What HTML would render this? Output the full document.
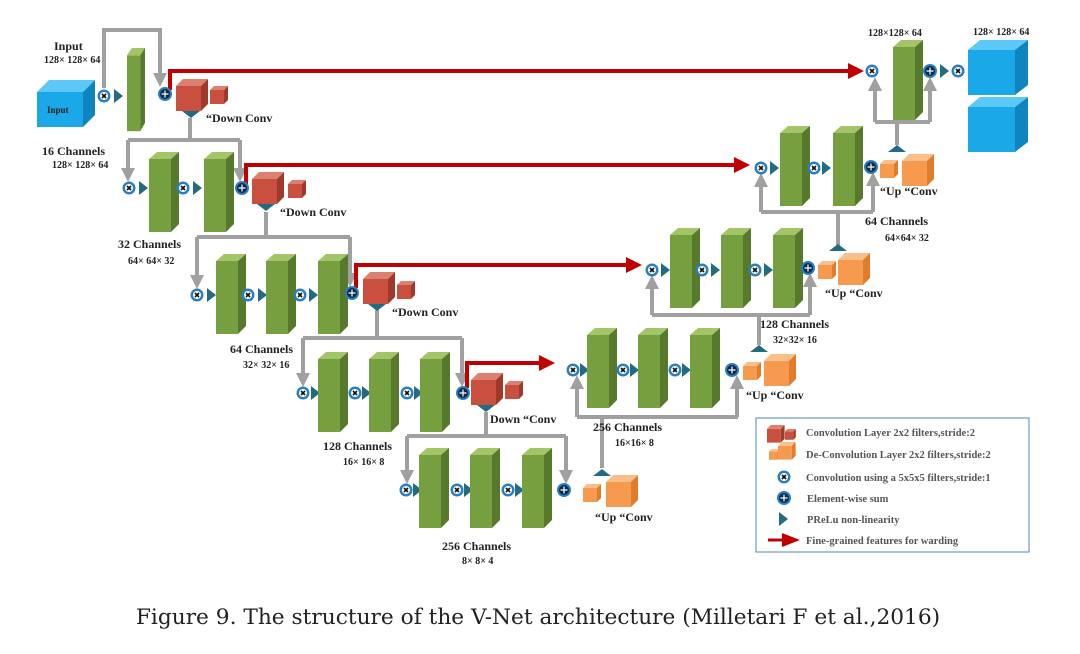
<!DOCTYPE html>
<html><head><meta charset="utf-8"><style>
body{margin:0;background:#fff}
svg{display:block}
text{font-family:"Liberation Serif",serif;font-weight:bold;fill:#222}
</style></head><body>
<svg width="1080" height="654" viewBox="0 0 1080 654" xmlns="http://www.w3.org/2000/svg">
<defs>
<g id="bar">
<rect x="0" y="7" width="22" height="73" fill="#76a03f"/>
<polygon points="0,7 8,0 30,0 22,7" fill="#a4c468"/>
<polygon points="22,7 30,0 30,72 22,80" fill="#56792c"/>
</g>
<g id="conv">
<circle r="6.5" fill="#2b7fc0"/><circle r="4" fill="#fff"/>
<path d="M-2,-2L2,2M2,-2L-2,2" stroke="#111" stroke-width="1.6"/>
</g>
<g id="sum">
<circle r="7" fill="#2b7fc0"/><circle r="5" fill="#0a2a4a"/>
<path d="M-3.5,0H3.5M0,-3.5V3.5" stroke="#fff" stroke-width="1.2"/>
</g>
<polygon id="tri" points="0,-7 9,0 0,7" fill="#236b80"/>
<polygon id="tdown" points="-9,0 9,0 0,7" fill="#236b80"/>
<polygon id="tup" points="-9,0 9,0 0,-7" fill="#236b80"/>
<g id="rbig"><rect x="0" y="7" width="25" height="25" fill="#c9503f"/><polygon points="0,7 7,0 32,0 25,7" fill="#dc8070"/><polygon points="25,7 32,0 32,25 25,32" fill="#9e3a2c"/></g>
<g id="rsm"><rect x="0" y="4" width="14" height="14" fill="#c9503f"/><polygon points="0,4 4,0 18,0 14,4" fill="#dc8070"/><polygon points="14,4 18,0 18,14 14,18" fill="#9e3a2c"/></g>
<g id="obig"><rect x="0" y="7" width="25" height="25" fill="#f59a4e"/><polygon points="0,7 7,0 32,0 25,7" fill="#f8bf8a"/><polygon points="25,7 32,0 32,25 25,32" fill="#e07c2a"/></g>
<g id="osm"><rect x="0" y="4" width="14" height="14" fill="#f59a4e"/><polygon points="0,4 4,0 18,0 14,4" fill="#f8bf8a"/><polygon points="14,4 18,0 18,14 14,18" fill="#e07c2a"/></g>
<marker id="ga" viewBox="0 0 10 10" refX="5" refY="5" markerWidth="3.5" markerHeight="3.5" orient="auto"><path d="M0,0L10,5L0,10z" fill="#a0a0a0"/></marker>
<marker id="ra" viewBox="0 0 10 10" refX="5" refY="5" markerWidth="4" markerHeight="4" orient="auto"><path d="M0,0L10,5L0,10z" fill="#c00000"/></marker>
</defs>

<g fill="none" stroke="#a0a0a0" stroke-width="4">
<path d="M104,88V30H160V80" marker-end="url(#ga)"/>
<path d="M190,118V140M128,140H240"/>
<path d="M128,140V175" marker-end="url(#ga)"/><path d="M240,140V175" marker-end="url(#ga)"/>
<path d="M266,212V237M197,237H350"/>
<path d="M197,237V282" marker-end="url(#ga)"/><path d="M350,237V280" marker-end="url(#ga)"/>
<path d="M377,310V338M303,338H462"/>
<path d="M303,338V380" marker-end="url(#ga)"/><path d="M462,338V380" marker-end="url(#ga)"/>
<path d="M486,412V436M407,436H566"/>
<path d="M407,436V477" marker-end="url(#ga)"/><path d="M566,436V477" marker-end="url(#ga)"/>
<path d="M602,468V417M577,417H738"/>
<path d="M577,417V382" marker-end="url(#ga)"/><path d="M737,417V382" marker-end="url(#ga)"/>
<path d="M759,345V315M652,315H810"/>
<path d="M652,315V282" marker-end="url(#ga)"/><path d="M810,315V280" marker-end="url(#ga)"/>
<path d="M838,245V212M761,212H873"/>
<path d="M761,212V180" marker-end="url(#ga)"/><path d="M873,212V179" marker-end="url(#ga)"/>
<path d="M897,145V122M875,122H930"/>
<path d="M875,122V84" marker-end="url(#ga)"/><path d="M930,122V84" marker-end="url(#ga)"/>
</g>

<g fill="none" stroke="#c00000" stroke-width="4">
<path d="M170,90V71H856" marker-end="url(#ra)"/>
<path d="M246,184V165H742" marker-end="url(#ra)"/>
<path d="M356,288V265H634" marker-end="url(#ra)"/>
<path d="M467,388V363H547" marker-end="url(#ra)"/>
</g>

<rect x="37" y="92" width="46" height="35" fill="#1aa8e8"/>
<polygon points="37,92 49,80 95,80 83,92" fill="#5cc8f5"/>
<polygon points="83,92 95,80 95,115 83,127" fill="#0f85c0"/>
<text x="47" y="113" font-size="9" fill="#1a4a80">Input</text>
<text x="54" y="50" font-size="12">Input</text>
<text x="44" y="63" font-size="10">128× 128× 64</text>
<use href="#conv" x="104" y="96"/><use href="#tri" x="114" y="96"/>
<g transform="translate(127,48) scale(0.6,1.04)"><use href="#bar"/></g>
<use href="#sum" x="165" y="94"/>
<use href="#rbig" x="176" y="79"/><use href="#rsm" x="210" y="86"/>
<use href="#tdown" x="191" y="111"/>
<text x="206" y="122" font-size="12">“Down Conv</text>

<text x="42" y="155" font-size="12">16 Channels</text>
<text x="52" y="168" font-size="10">128× 128× 64</text>
<use href="#conv" x="129" y="188"/><use href="#tri" x="139" y="188"/>
<use href="#bar" x="149" y="152"/>
<use href="#conv" x="183" y="188"/><use href="#tri" x="193" y="188"/>
<use href="#bar" x="204" y="152"/>
<use href="#sum" x="242" y="188"/>
<use href="#rbig" x="252" y="172"/><use href="#rsm" x="288" y="180"/>
<use href="#tdown" x="266" y="204"/>
<text x="280" y="216" font-size="12">“Down Conv</text>

<text x="118" y="248" font-size="12">32 Channels</text>
<text x="128" y="264" font-size="10">64× 64× 32</text>
<use href="#conv" x="197" y="295"/><use href="#tri" x="207" y="295"/>
<use href="#bar" x="216" y="254"/>
<use href="#conv" x="248" y="295"/><use href="#tri" x="258" y="295"/>
<use href="#bar" x="266" y="254"/>
<use href="#conv" x="300" y="295"/><use href="#tri" x="309" y="295"/>
<use href="#bar" x="318" y="254"/>
<use href="#sum" x="352" y="293"/>
<use href="#rbig" x="363" y="272"/><use href="#rsm" x="397" y="281"/>
<use href="#tdown" x="377" y="304"/>
<text x="392" y="316" font-size="12">“Down Conv</text>

<text x="230" y="353" font-size="12">64 Channels</text>
<text x="243" y="368" font-size="10">32× 32× 16</text>
<use href="#conv" x="303" y="393"/><use href="#tri" x="311" y="393"/>
<use href="#bar" x="318" y="352"/>
<use href="#conv" x="355" y="393"/><use href="#tri" x="362" y="393"/>
<use href="#bar" x="369" y="352"/>
<use href="#conv" x="407" y="393"/><use href="#tri" x="414" y="393"/>
<use href="#bar" x="420" y="352"/>
<use href="#sum" x="463" y="393"/>
<use href="#rbig" x="471" y="373"/><use href="#rsm" x="505" y="381"/>
<use href="#tdown" x="486" y="405"/>
<text x="490" y="423" font-size="12">Down “Conv</text>

<text x="323" y="450" font-size="12">128 Channels</text>
<text x="343" y="465" font-size="10">16× 16× 8</text>
<use href="#conv" x="406" y="490"/><use href="#tri" x="413" y="490"/>
<use href="#bar" x="419" y="448"/>
<use href="#conv" x="457" y="490"/><use href="#tri" x="464" y="490"/>
<use href="#bar" x="470" y="448"/>
<use href="#conv" x="508" y="490"/><use href="#tri" x="515" y="490"/>
<use href="#bar" x="522" y="448"/>
<use href="#sum" x="564" y="490"/>
<use href="#osm" x="583" y="484"/><use href="#obig" x="606" y="475"/>
<use href="#tup" x="602" y="476"/>
<text x="595" y="521" font-size="12">“Up “Conv</text>
<text x="442" y="550" font-size="12">256 Channels</text>
<text x="462" y="564" font-size="10">8× 8× 4</text>

<use href="#conv" x="573" y="370"/><use href="#tri" x="580" y="370"/>
<use href="#bar" x="587" y="328"/>
<use href="#conv" x="623" y="370"/><use href="#tri" x="630" y="370"/>
<use href="#bar" x="638" y="328"/>
<use href="#conv" x="675" y="370"/><use href="#tri" x="682" y="370"/>
<use href="#bar" x="690" y="328"/>
<use href="#sum" x="732" y="370"/>
<use href="#osm" x="743" y="362"/><use href="#obig" x="764" y="354"/>
<use href="#tup" x="759" y="352"/>
<text x="746" y="399" font-size="12">“Up “Conv</text>
<text x="593" y="431" font-size="12">256 Channels</text>
<text x="615" y="446" font-size="10">16×16× 8</text>

<use href="#conv" x="652" y="270"/><use href="#tri" x="661" y="270"/>
<use href="#bar" x="670" y="228"/>
<use href="#conv" x="702" y="270"/><use href="#tri" x="711" y="270"/>
<use href="#bar" x="721" y="228"/>
<use href="#conv" x="755" y="270"/><use href="#tri" x="764" y="270"/>
<use href="#bar" x="773" y="228"/>
<use href="#sum" x="808" y="268"/>
<use href="#osm" x="818" y="261"/><use href="#obig" x="838" y="253"/>
<use href="#tup" x="838" y="251"/>
<text x="825" y="297" font-size="12">“Up “Conv</text>
<text x="760" y="328" font-size="12">128 Channels</text>
<text x="773" y="343" font-size="10">32×32× 16</text>

<use href="#conv" x="761" y="168"/><use href="#tri" x="770" y="168"/>
<use href="#bar" x="780" y="126"/>
<use href="#conv" x="814" y="168"/><use href="#tri" x="822" y="168"/>
<use href="#bar" x="833" y="126"/>
<use href="#sum" x="871" y="167"/>
<use href="#osm" x="880" y="160"/><use href="#obig" x="902" y="154"/>
<use href="#tup" x="897" y="152"/>
<text x="880" y="195" font-size="12">“Up “Conv</text>
<text x="865" y="225" font-size="12">64 Channels</text>
<text x="885" y="241" font-size="10">64×64× 32</text>

<text x="868" y="36" font-size="10">128×128× 64</text>
<use href="#conv" x="872" y="71"/>
<use href="#bar" x="893" y="40"/>
<use href="#sum" x="930" y="71"/><use href="#tri" x="940" y="71"/>
<use href="#conv" x="958" y="71"/>
<text x="973" y="35" font-size="10">128× 128× 64</text>
<rect x="968" y="50" width="47" height="45" fill="#1aa8e8"/>
<polygon points="968,50 980,40 1028,40 1015,50" fill="#5cc8f5"/>
<polygon points="1015,50 1028,40 1028,85 1015,95" fill="#0f85c0"/>
<rect x="968" y="107" width="47" height="45" fill="#1aa8e8"/>
<polygon points="968,107 980,97 1028,97 1015,107" fill="#5cc8f5"/>
<polygon points="1015,107 1028,97 1028,142 1015,152" fill="#0f85c0"/>

<rect x="756" y="418" width="273" height="134" fill="#fff" stroke="#6a9ccc" stroke-width="1.2"/>
<g transform="translate(767,425) scale(0.55)"><use href="#rbig"/></g><g transform="translate(785,429) scale(0.6)"><use href="#rsm"/></g>
<g transform="translate(769,449) scale(0.6)"><use href="#osm"/></g><g transform="translate(778,442) scale(0.55)"><use href="#obig"/></g>
<use href="#conv" x="784" y="477"/>
<use href="#sum" x="784" y="498"/>
<use href="#tri" x="779" y="519"/>
<path d="M768,540H784" stroke="#c00000" stroke-width="3"/><path d="M782,533L800,540L782,547z" fill="#c00000"/>
<g font-size="10.5">
<text x="806" y="436" style="fill:#555">Convolution Layer 2x2  filters,stride:2</text>
<text x="806" y="458" style="fill:#555">De-Convolution Layer 2x2  filters,stride:2</text>
<text x="806" y="481" style="fill:#555">Convolution using a 5x5x5 filters,stride:1</text>
<text x="807" y="502" style="fill:#555">Element-wise sum</text>
<text x="807" y="523" style="fill:#555">PReLu non-linearity</text>
<text x="806" y="544" style="fill:#555">Fine-grained features for warding</text>
</g>

<text x="538" y="624" font-size="21.7" text-anchor="middle" style="font-weight:normal;fill:#222;font-family:'DejaVu Serif','Liberation Serif',serif">Figure 9. The structure of the V-Net architecture (Milletari F et al.,2016)</text>
</svg>
</body></html>
